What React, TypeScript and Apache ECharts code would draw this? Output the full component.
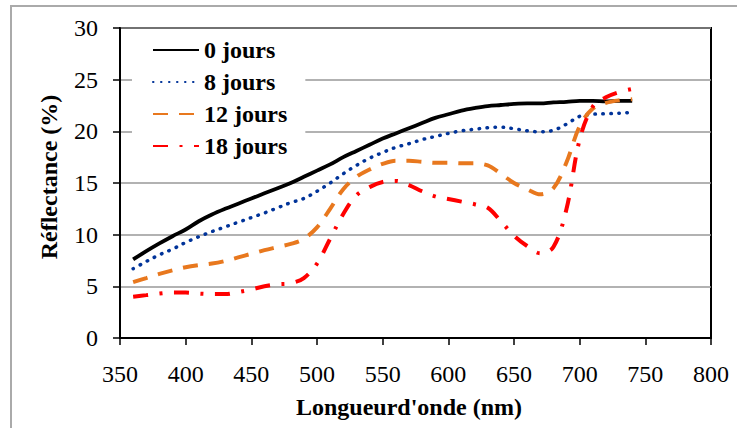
import React, { useEffect, useRef } from "react";
import * as echarts from "echarts";

const wavelengths = [360, 370, 380, 390, 400, 410, 420, 430, 440, 450, 460, 470, 480, 490, 500, 510, 520, 530, 540, 550, 560, 570, 580, 590, 600, 610, 620, 630, 640, 650, 660, 670, 680, 690, 700, 710, 720, 730, 740];

const jours0 = [7.6, 8.4, 9.15, 9.85, 10.5, 11.3, 11.95, 12.5, 13.0, 13.5, 14.0, 14.5, 15.0, 15.6, 16.2, 16.8, 17.5, 18.1, 18.7, 19.3, 19.8, 20.3, 20.8, 21.3, 21.65, 22.0, 22.25, 22.45, 22.55, 22.65, 22.7, 22.7, 22.8, 22.85, 22.95, 22.95, 22.9, 22.95, 22.95];

const jours8 = [6.7, 7.4, 8.05, 8.6, 9.25, 9.8, 10.3, 10.75, 11.2, 11.65, 12.1, 12.6, 13.1, 13.5, 14.2, 15.0, 15.9, 16.7, 17.4, 17.95, 18.45, 18.8, 19.2, 19.5, 19.8, 20.05, 20.2, 20.35, 20.4, 20.25, 20.05, 19.95, 20.1, 20.7, 21.45, 21.65, 21.7, 21.75, 21.85];

const jours12 = [5.4, 5.8, 6.2, 6.55, 6.85, 7.05, 7.2, 7.45, 7.8, 8.15, 8.5, 8.8, 9.1, 9.6, 10.7, 12.5, 14.4, 15.6, 16.3, 16.85, 17.15, 17.15, 17.05, 16.95, 16.95, 16.9, 16.9, 16.7, 15.9, 15.0, 14.4, 13.9, 14.5, 17.0, 20.5, 22.2, 22.75, 23.0, 23.1];

const jours18 = [4.0, 4.15, 4.3, 4.4, 4.4, 4.3, 4.25, 4.25, 4.45, 4.7, 5.0, 5.2, 5.3, 5.8, 7.2, 9.6, 12.0, 13.8, 14.6, 15.1, 15.2, 14.8, 14.2, 13.7, 13.45, 13.2, 12.95, 12.6, 11.3, 9.9, 8.9, 8.2, 8.8, 12.5, 19.2, 22.4, 23.3, 23.8, 24.1];

const seriesNames = ["0 jours", "8 jours", "12 jours", "18 jours"];
const xTicks = [350, 400, 450, 500, 550, 600, 650, 700, 750, 800];
const yTicks = [0, 5, 10, 15, 20, 25, 30];

const FONT = '"Liberation Serif", "Times New Roman", serif';

export default function App() {
  const ref = useRef<HTMLDivElement>(null);

  useEffect(() => {
    if (!ref.current) return;
    const chart = echarts.init(ref.current, null, { renderer: "svg" });
    const pairs = (vals: number[]) => wavelengths.map((w, i) => [w, vals[i]]);

    const mk = (name: string, vals: number[], color: string, type: any, width: number, cap: string) => ({
      name,
      type: "line",
      data: pairs(vals),
      smooth: 0.35,
      symbol: "none",
      showSymbol: false,
      lineStyle: { color, width, type, cap },
      itemStyle: { color },
      z: 3,
    });

    chart.setOption({
      animation: false,
      backgroundColor: "#ffffff",
      grid: {
        left: 120,
        right: 26,
        top: 28,
        bottom: 90,
        show: true,
        borderColor: "#000000",
        borderWidth: 2,
        backgroundColor: "transparent",
      },
      legend: {
        data: seriesNames,
        orient: "vertical",
        left: 132,
        top: 30,
        padding: [8, 18, 8, 20],
        backgroundColor: "#ffffff",
        itemWidth: 46,
        itemHeight: 14,
        itemGap: 8,
        itemStyle: { opacity: 0 },
        textStyle: {
          fontFamily: FONT,
          fontWeight: "bold",
          fontSize: 24,
          color: "#000000",
          lineHeight: 24,
        },
      },
      xAxis: {
        type: "value",
        min: xTicks[0],
        max: xTicks[xTicks.length - 1],
        interval: 50,
        axisLine: { show: true, onZero: false, lineStyle: { color: "#000000", width: 2 } },
        axisTick: { show: true, inside: false, length: 7, lineStyle: { color: "#000000", width: 1.5 } },
        splitLine: { show: false },
        axisLabel: { color: "#000000", fontFamily: FONT, fontSize: 24, margin: 24 },
      },
      yAxis: {
        type: "value",
        min: yTicks[0],
        max: yTicks[yTicks.length - 1],
        interval: 5,
        axisLine: { show: true, lineStyle: { color: "#000000", width: 2 } },
        axisTick: { show: true, inside: false, length: 7, lineStyle: { color: "#000000", width: 1.5 } },
        splitLine: { show: true, lineStyle: { color: "#999999", width: 1.5 } },
        axisLabel: { color: "#000000", fontFamily: FONT, fontSize: 24, margin: 22 },
      },
      graphic: [
        {
          type: "rect",
          shape: { x: 11, y: 6, width: 760, height: 460 },
          style: { fill: "none", stroke: "#aaaaaa", lineWidth: 2 },
          silent: true,
          z: -10,
        },
        {
          type: "text",
          x: 49,
          y: 177,
          rotation: Math.PI / 2,
          style: {
            text: "Réflectance (%)",
            fontFamily: FONT,
            fontWeight: "bold",
            fontSize: 24,
            fill: "#000000",
            textAlign: "center",
            textVerticalAlign: "middle",
          },
        },
        {
          type: "text",
          x: 409,
          y: 407,
          style: {
            text: "Longueurd'onde (nm)",
            fontFamily: FONT,
            fontWeight: "bold",
            fontSize: 24,
            fill: "#000000",
            textAlign: "center",
            textVerticalAlign: "middle",
          },
        },
      ],
      series: [
        mk(seriesNames[0], jours0, "#000000", "solid", 3.8, "butt"),
        mk(seriesNames[1], jours8, "#003399", [0.5, 7.5], 3.5, "round"),
        mk(seriesNames[2], jours12, "#E8781E", [15, 11], 4, "butt"),
        mk(seriesNames[3], jours18, "#FF0000", [15, 11.5, 3, 11.5], 4, "butt"),
      ],
    });

    return () => chart.dispose();
  }, []);

  return <div ref={ref} style={{ width: 737, height: 428, position: "absolute", left: 0, top: 0 }} />;
}
